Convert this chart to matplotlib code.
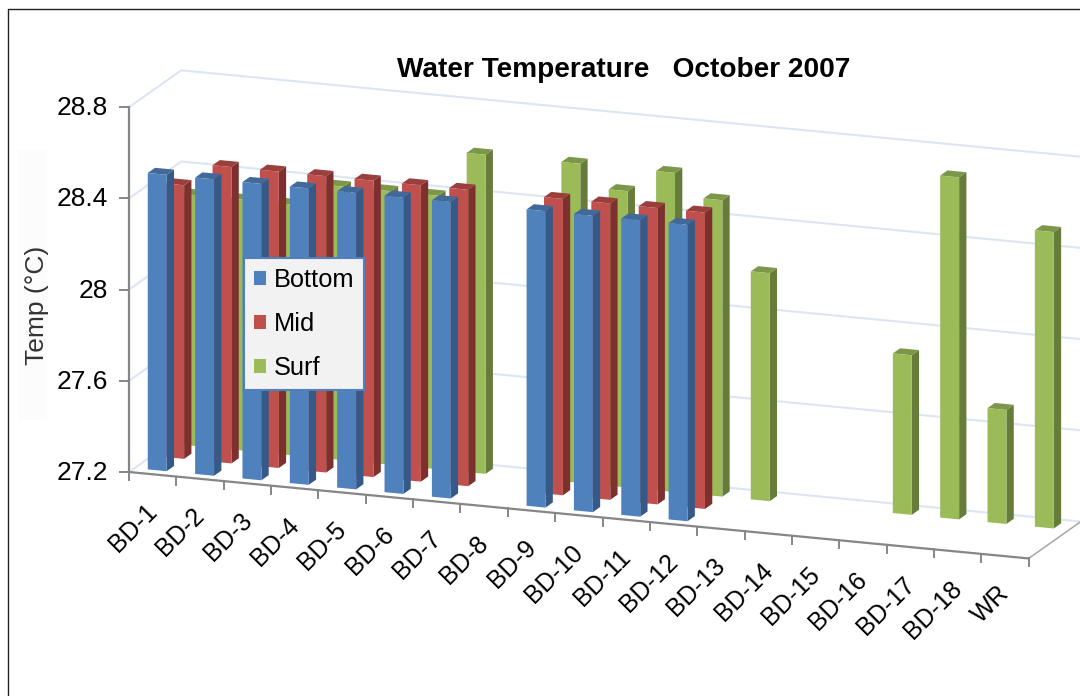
import numpy as np
import matplotlib
matplotlib.use('Agg')
import matplotlib.pyplot as plt
from matplotlib.patches import Polygon, Patch, Rectangle

plt.rcParams['font.family'] = ['Liberation Sans', 'DejaVu Sans']

categories = ['BD-1', 'BD-2', 'BD-3', 'BD-4', 'BD-5', 'BD-6', 'BD-7', 'BD-8', 'BD-9', 'BD-10',
              'BD-11', 'BD-12', 'BD-13', 'BD-14', 'BD-15', 'BD-16', 'BD-17', 'BD-18', 'WR']
nan = float('nan')
bottom = [28.5, 28.5, 28.5, 28.5, 28.5, 28.5, 28.5, nan, 28.5, 28.5, 28.5, 28.5,
          nan, nan, nan, nan, nan, nan, nan]
mid = [28.4, 28.5, 28.5, 28.5, 28.5, 28.5, 28.5, nan, 28.5, 28.5, 28.5, 28.5,
       nan, nan, nan, nan, nan, nan, nan]
surf = [28.3, 28.3, 28.3, 28.4, 28.4, 28.4, 28.6, nan, 28.6, 28.5, 28.6, 28.5,
        28.2, nan, nan, 27.9, 28.7, 27.7, 28.5]
y_ticks = [27.2, 27.6, 28.0, 28.4, 28.8]
y_labels = ['27.2', '27.6', '28', '28.4', '28.8']

series = [('Bottom', bottom, '#4F81BD', '#355A88', '#41699A'),
          ('Mid', mid, '#C0504D', '#7D302E', '#9A3F3C'),
          ('Surf', surf, '#9BBB59', '#677C3B', '#7C964A')]

# oblique projection of the excel 3d box onto the picture
ORIGIN = np.array([129.0, 472.0])
CAT = np.array([47.35, 4.55])
DEPTH = np.array([17.4, -12.3])
PX_PER_DEG = 228.0
BAR_W = 0.40
BAR_D = 0.42


def project(c, d, v=27.2):
    p = ORIGIN + c * CAT + d * DEPTH
    return p[0], p[1] - (v - 27.2) * PX_PER_DEG


fig = plt.figure(figsize=(10.8, 6.96), dpi=100)
ax = fig.add_axes([0, 0, 1, 1])
ax.set_xlim(0, 1080)
ax.set_ylim(696, 0)
ax.axis('off')

# outer chart border
ax.plot([7.5, 7.5, 1080], [696, 8.5, 8.5], color='#222222', lw=1.0, zorder=1)
# faint box left behind the axis title
ax.add_patch(Rectangle((18, 150), 29, 270, fc='#FCFCFC', ec='none', zorder=0))

grid_c = '#DCE6F2'
n = len(categories)
for v in y_ticks:
    pts = [project(0, 0, v), project(0, 3, v), project(n, 3, v)]
    ax.plot(*zip(*pts), color=grid_c, lw=1.5, zorder=1)
pts = [project(n, 3), project(n, 0)]
ax.plot(*zip(*pts), color='#A6A6A6', lw=1.1, zorder=1)

# bars, back row first
zo = 2
for s in [2, 1, 0]:
    name, vals, front, side, top = series[s]
    for c in range(n):
        v = vals[c]
        if np.isnan(v):
            continue
        c0, c1 = c + 0.28, c + 0.28 + BAR_W
        d0, d1 = s + 0.317, s + 0.317 + BAR_D
        ax.add_patch(Polygon([project(c1, d0), project(c1, d1), project(c1, d1, v), project(c1, d0, v)],
                             closed=True, fc=side, ec='none', zorder=zo))
        ax.add_patch(Polygon([project(c0, d0, v), project(c1, d0, v), project(c1, d1, v), project(c0, d1, v)],
                             closed=True, fc=top, ec='none', zorder=zo))
        ax.add_patch(Polygon([project(c0, d0), project(c1, d0), project(c1, d0, v), project(c0, d0, v)],
                             closed=True, fc=front, ec='none', zorder=zo))
    zo += 1

# axes and ticks
axis_c = '#868686'
ax.plot(*zip(project(0, 0, 28.8), project(0, 0)), color=axis_c, lw=1.6, zorder=6)
ax.plot(*zip(project(0, 0), project(n, 0)), color=axis_c, lw=1.6, zorder=6)
for v, lab in zip(y_ticks, y_labels):
    x, y = project(0, 0, v)
    ax.plot([x - 9, x], [y, y], color=axis_c, lw=1.4, zorder=6)
    ax.text(x - 21, y + 1, lab, ha='right', va='center', fontsize=19, color='black')
for c in range(n + 1):
    x, y = project(c, 0)
    ax.plot([x, x], [y, y + 8], color=axis_c, lw=1.4, zorder=6)
for c, lab in enumerate(categories):
    x, y = project(c + 0.5, 0)
    ax.text(x - 8, y + 25, lab, ha='right', va='top', rotation=45, rotation_mode='anchor',
            fontsize=18, color='black')

ax.text(624, 70, 'Water Temperature   October 2007', ha='center', va='center',
        fontsize=20.2, fontweight='bold', color='black')
ax.text(37, 305, 'Temp (°C)', rotation=90, ha='center', va='center', fontsize=19, color='#333333')

handles = [Patch(fc=f, ec='none', label=nm) for nm, _, f, _, _ in series]
leg = ax.legend(handles=handles, loc='upper left', bbox_to_anchor=(244 / 1080, 1 - 258 / 696),
                fontsize=18.3, frameon=True, fancybox=False, facecolor='#F2F2F2', edgecolor='#4F81BD',
                framealpha=1, handlelength=0.48, handleheight=0.48, handletextpad=0.3,
                labelspacing=0.8, borderpad=0.38, borderaxespad=0)
leg.get_frame().set_linewidth(1.5)
leg.set_zorder(10)

fig.savefig('out.png', dpi=100)
